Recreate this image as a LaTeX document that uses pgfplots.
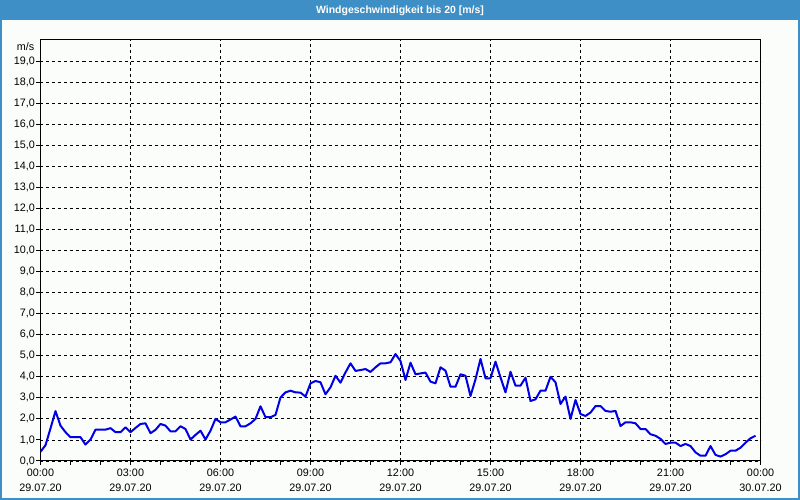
\documentclass[border=0pt]{standalone}
\usepackage{pgfplots}
\pgfplotsset{compat=1.18}
\usepackage{fontspec}
\setmainfont{Liberation Sans}
\definecolor{titleblue}{HTML}{3D8FC6}
\definecolor{bg}{HTML}{FBFDFB}
\definecolor{lineblue}{RGB}{0,0,230}
\begin{document}
\begin{tikzpicture}
\fill[bg] (0,0) rectangle (800pt,500pt);
\fill[titleblue] (0,479.5pt) rectangle (800pt,500pt);
\draw[titleblue, line width=2pt] (1pt,1pt) rectangle (799pt,499pt);
\node[text=white, font=\bfseries\fontsize{10.5}{12}\selectfont] at (400pt,489.5pt) {Windgeschwindigkeit bis 20 [m/s]};
\node[font=\fontsize{10.8}{12}\selectfont, anchor=east, inner sep=0pt] at (34.5pt,453.5pt) {m/s};
\begin{axis}[at={(40.5pt,39pt)}, anchor=south west, scale only axis,
  width=720pt, height=421pt,
  xmin=0, xmax=1440, ymin=0, ymax=20,
  xtick={0,180,...,1440}, minor xtick={60,120,...,1380},
  ytick={0,1,...,19},
  xticklabels={{00:00\\29.07.20},{03:00\\29.07.20},{06:00\\29.07.20},{09:00\\29.07.20},{12:00\\29.07.20},{15:00\\29.07.20},{18:00\\29.07.20},{21:00\\29.07.20},{00:00\\30.07.20}},
  grid=major,
  major grid style={black, line width=0.8pt, dash pattern=on 3pt off 3pt},
  axis line style={black, line width=1pt},
  tick align=outside, tick pos=left,
  major tick length=4pt, minor tick length=4pt,
  tick style={black, line width=1pt},
  xticklabel style={align=center, font=\fontsize{10.8}{15}\selectfont, inner sep=1pt, yshift=-3pt},
  yticklabel style={font=\fontsize{10.8}{12}\selectfont, inner sep=1.5pt,
    /pgf/number format/.cd, fixed, fixed zerofill, precision=1, use comma, assume math mode=true},
  axis background/.style={fill=bg},
]
\addplot[lineblue, line width=2pt, line join=round] table {
x y
0 0.44
10 0.75
20 1.55
30 2.37
40 1.68
50 1.37
60 1.13
70 1.13
80 1.13
90 0.78
100 1.02
110 1.49
120 1.49
130 1.49
140 1.56
150 1.37
160 1.37
170 1.60
180 1.37
190 1.57
200 1.76
210 1.79
220 1.32
230 1.48
240 1.76
250 1.68
260 1.41
270 1.41
280 1.65
290 1.52
300 1.02
310 1.24
320 1.44
330 1.02
340 1.44
350 2.00
360 1.84
370 1.84
380 1.97
390 2.11
400 1.65
410 1.65
420 1.79
430 2.00
440 2.60
450 2.08
460 2.08
470 2.19
480 3.02
490 3.26
500 3.34
510 3.26
520 3.25
530 3.06
540 3.69
550 3.80
560 3.74
570 3.17
580 3.50
590 4.05
600 3.72
610 4.21
620 4.64
630 4.28
640 4.32
650 4.37
660 4.23
670 4.45
680 4.64
690 4.64
700 4.69
710 5.08
720 4.75
730 3.85
740 4.67
750 4.12
760 4.16
770 4.20
780 3.77
790 3.69
800 4.45
810 4.29
820 3.53
830 3.53
840 4.12
850 4.05
860 3.09
870 3.88
880 4.85
890 3.93
900 3.93
910 4.72
920 3.97
930 3.26
940 4.24
950 3.58
960 3.58
970 3.96
980 2.85
990 2.93
1000 3.34
1010 3.34
1020 4.00
1030 3.74
1040 2.71
1050 3.06
1060 2.00
1070 2.90
1080 2.23
1090 2.14
1100 2.30
1110 2.61
1120 2.61
1130 2.38
1140 2.34
1150 2.38
1160 1.66
1170 1.84
1180 1.84
1190 1.79
1200 1.52
1210 1.52
1220 1.27
1230 1.20
1240 1.05
1250 0.81
1260 0.87
1270 0.87
1280 0.71
1290 0.81
1300 0.71
1310 0.41
1320 0.25
1330 0.25
1340 0.71
1350 0.29
1360 0.21
1370 0.32
1380 0.49
1390 0.49
1400 0.63
1410 0.87
1420 1.08
1430 1.20
};
\end{axis}
\end{tikzpicture}
\end{document}
